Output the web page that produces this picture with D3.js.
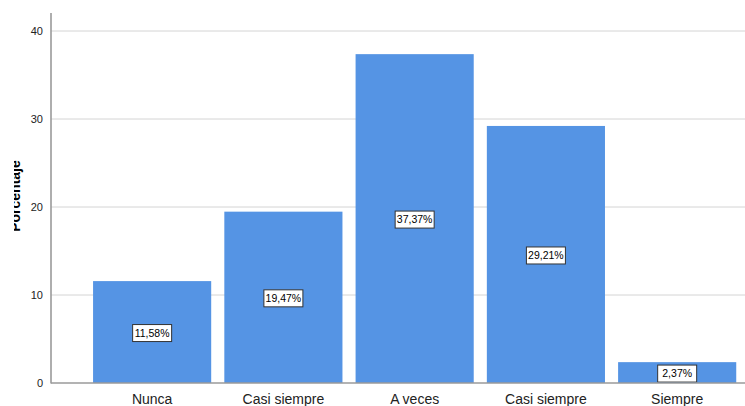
<!DOCTYPE html>
<html>
<head>
<meta charset="utf-8">
<script src="https://cdn.jsdelivr.net/npm/d3@7"></script>
<style>
  body { margin: 0; background: #fff; }
  svg { display: block; font-family: "Liberation Sans", Arial, sans-serif; }
</style>
</head>
<body>
<svg id="chart" width="745" height="406"></svg>
<script>
// datos
const categorias = ['Nunca', 'Casi siempre', 'A veces', 'Casi siempre ', 'Siempre'];
const porcentajes = [11.58, 19.47, 37.37, 29.21, 2.37];
const ticksY = [0, 10, 20, 30, 40];

const width = 745, height = 406;
const x0 = 51, y0 = 383, yTop = 13;

const svg = d3.select('#chart');

const x = d3.scaleBand()
    .domain(categorias)
    .range([86.5, 742.8])
    .paddingInner(0.1)
    .paddingOuter(0.05);

const y = d3.scaleLinear()
    .domain([0, 40])
    .range([y0, 31]);

// lineas de cuadricula
svg.append('g')
  .selectAll('line')
  .data(ticksY.slice(1))
  .join('line')
    .attr('x1', x0).attr('x2', width)
    .attr('y1', d => y(d)).attr('y2', d => y(d))
    .attr('stroke', '#d4d4d4')
    .attr('stroke-width', 1);

// barras
svg.append('g')
  .selectAll('rect')
  .data(porcentajes)
  .join('rect')
    .attr('x', (d, i) => x(categorias[i]))
    .attr('width', x.bandwidth())
    .attr('y', d => y(d))
    .attr('height', d => y0 - y(d))
    .attr('fill', '#5594e4');

// etiquetas de valor
const etiquetas = svg.append('g')
  .selectAll('g')
  .data(porcentajes)
  .join('g')
    .attr('transform', (d, i) =>
      `translate(${x(categorias[i]) + x.bandwidth() / 2},${(y(d) + y0) / 2 + 1})`);

etiquetas.append('rect')
    .attr('x', -19.5).attr('y', -8.5)
    .attr('width', 39).attr('height', 17)
    .attr('fill', '#fff')
    .attr('stroke', '#333')
    .attr('stroke-width', 1);

etiquetas.append('text')
    .attr('text-anchor', 'middle')
    .attr('dy', '0.36em')
    .style('font-size', '10.5px')
    .attr('fill', '#000')
    .text(d => d.toFixed(2).replace('.', ',') + '%');

// eje Y
const ejeY = svg.append('g')
    .attr('transform', `translate(${x0},0)`)
    .call(d3.axisLeft(y).tickValues(ticksY).tickSize(0).tickPadding(8));
ejeY.select('.domain').remove();
ejeY.selectAll('text')
    .style('font-size', '11px')
    .style('font-family', '"Liberation Sans", Arial, sans-serif')
    .attr('fill', '#222');

svg.append('line')
    .attr('x1', x0).attr('x2', x0)
    .attr('y1', yTop).attr('y2', y0 + 0.5)
    .attr('stroke', '#9a9a9a')
    .attr('stroke-width', 1.6);

// eje X
const ejeX = svg.append('g')
    .attr('transform', `translate(0,${y0})`)
    .call(d3.axisBottom(x).tickSize(0).tickPadding(11));
ejeX.select('.domain').remove();
ejeX.selectAll('text')
    .style('font-size', '14px')
    .style('font-family', '"Liberation Sans", Arial, sans-serif')
    .attr('fill', '#222');

svg.append('line')
    .attr('x1', x0).attr('x2', width)
    .attr('y1', y0).attr('y2', y0)
    .attr('stroke', '#9a9a9a')
    .attr('stroke-width', 1.6);

// titulo del eje Y (recortado a la izquierda como en el original)
svg.append('clipPath').attr('id', 'recorte')
  .append('rect').attr('x', 14).attr('y', 0).attr('width', 40).attr('height', height);

svg.append('g')
    .attr('clip-path', 'url(#recorte)')
  .append('text')
    .attr('transform', 'translate(20,196) rotate(-90)')
    .attr('text-anchor', 'middle')
    .style('font-size', '14px')
    .style('font-weight', 'bold')
    .attr('fill', '#000')
    .text('Porcentaje');
</script>
</body>
</html>
